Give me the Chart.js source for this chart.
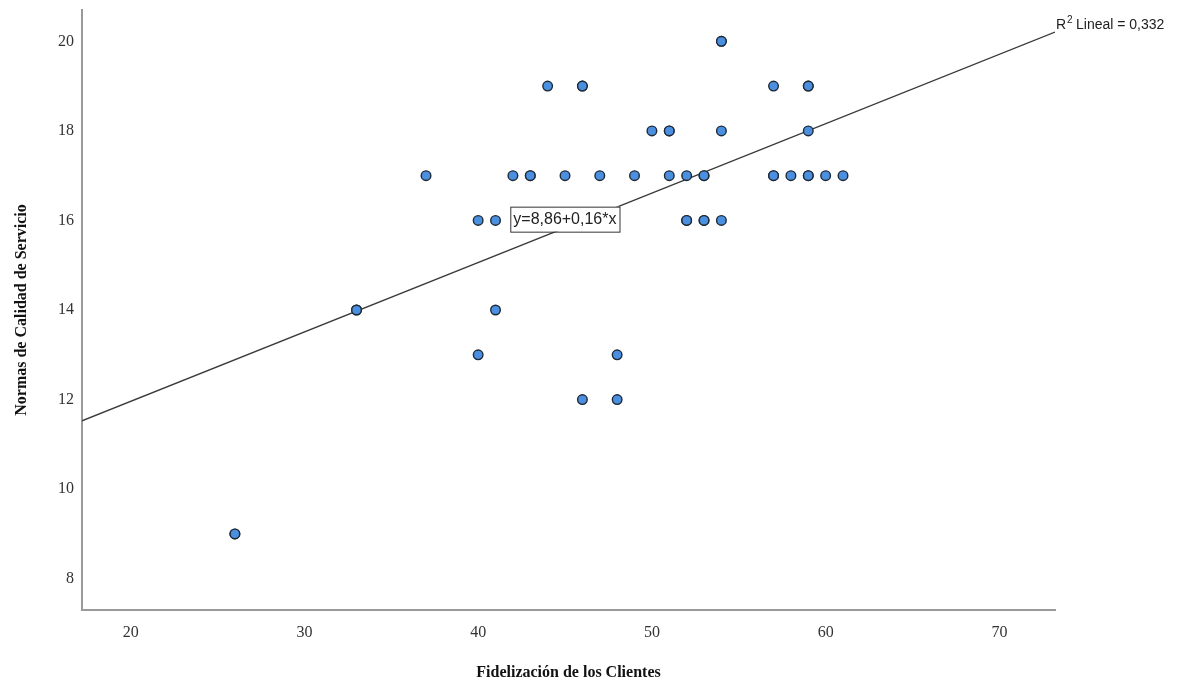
<!DOCTYPE html>
<html>
<head>
<meta charset="utf-8">
<script src="https://cdn.jsdelivr.net/npm/chart.js@4.4.0/dist/chart.umd.min.js"></script>
<style>
  html, body { margin: 0; padding: 0; background: #fff; }
  #wrap { width: 1178px; height: 684px; }
</style>
</head>
<body>
<div id="wrap"><canvas id="scatterChart"></canvas></div>
<script>
// data (x = Fidelización, y = Normas de Calidad)
const fidelizacion = [26, 26, 33, 33, 37, 40, 41, 40, 41, 44, 46, 46, 42, 43, 43, 45, 47, 49, 46, 48, 48,
  50, 51, 51, 51, 52, 53, 53, 52, 52, 53, 53, 54, 54, 54, 54, 57, 59, 59, 59, 57, 57, 58, 59, 59, 60, 61];
const normas = [9, 9, 14, 14, 17, 16, 16, 13, 14, 19, 19, 19, 17, 17, 17, 17, 17, 17, 12, 13, 12,
  18, 18, 18, 17, 17, 17, 17, 16, 16, 16, 16, 16, 20, 20, 18, 19, 19, 19, 18, 17, 17, 17, 17, 17, 17, 17];

const xTicks = [20, 30, 40, 50, 60, 70];
const yTicks = [8, 10, 12, 14, 16, 18, 20];

// fit line (as printed in the chart)
const intercept = 8.86;
const slope = 0.155;
const xMin = 17.2, xMax = 73.2;
const yMin = 7.3, yMax = 20.7;

const points = fidelizacion.map((x, i) => ({ x: x, y: normas[i] }));
const fitLine = [xMin, xMax].map((x) => ({ x: x, y: intercept + slope * x }));

const serif = "'Liberation Serif', 'Times New Roman', serif";
const sans = "'Liberation Sans', Arial, sans-serif";

const labelsPlugin = {
  id: "fitLabels",
  afterDatasetsDraw(chart) {
    const ctx = chart.ctx;
    const xs = chart.scales.x, ys = chart.scales.y;
    ctx.save();
    // equation box
    ctx.font = "16px " + sans;
    const eq = "y=8,86+0,16*x";
    const bx = xs.getPixelForValue(41.85);
    const by = ys.getPixelForValue(16.04);
    const w = ctx.measureText(eq).width + 6;
    ctx.fillStyle = "#fff";
    ctx.fillRect(bx, by - 12, w, 25);
    ctx.strokeStyle = "#333";
    ctx.lineWidth = 1;
    ctx.strokeRect(bx + 0.5, by - 12 + 0.5, w, 25);
    ctx.fillStyle = "#222";
    ctx.textBaseline = "middle";
    ctx.fillText(eq, bx + 3, by + 1);

    // R2 label at the line end
    const rx = xs.right + 1;
    const ry = ys.getPixelForValue(intercept + slope * xMax) - 7;
    ctx.font = "14px " + sans;
    ctx.fillText("R", rx, ry);
    const rw = ctx.measureText("R").width;
    ctx.font = "10px " + sans;
    ctx.fillText("2", rx + rw + 1, ry - 5);
    ctx.font = "14px " + sans;
    ctx.fillText(" Lineal = 0,332", rx + rw + 6, ry);
    ctx.restore();
  },
};

new Chart(document.getElementById("scatterChart"), {
  type: "scatter",
  data: {
    datasets: [
      {
        label: "Casos",
        data: points,
        backgroundColor: "#4a8fe0",
        borderColor: "#1f2a36",
        borderWidth: 1.4,
        pointRadius: 4.8,
        pointHoverRadius: 4.8,
        order: 1,
      },
      {
        label: "Lineal",
        type: "line",
        data: fitLine,
        borderColor: "#3a3a3a",
        borderWidth: 1.3,
        pointRadius: 0,
        fill: false,
        order: 2,
      },
    ],
  },
  options: {
    responsive: true,
    maintainAspectRatio: false,
    animation: false,
    layout: { padding: { left: 0, top: 10, right: 123, bottom: 0 } },
    plugins: {
      legend: { display: false },
      tooltip: { enabled: false },
    },
    scales: {
      x: {
        type: "linear",
        min: xMin,
        max: xMax,
        afterBuildTicks: (scale) => {
          scale.ticks = xTicks.map((v) => ({ value: v }));
        },
        afterFit: (scale) => {
          scale.height = 74;
        },
        grid: { drawOnChartArea: false, drawTicks: false },
        border: { display: true, color: "#9a9a9a", width: 2 },
        ticks: {
          padding: 13,
          color: "#333",
          font: { family: serif, size: 16 },
        },
        title: {
          display: true,
          text: "Fidelización de los Clientes",
          color: "#111",
          font: { family: serif, size: 16, weight: "bold" },
          padding: { top: 0, bottom: 2 },
        },
      },
      y: {
        type: "linear",
        min: yMin,
        max: yMax,
        afterBuildTicks: (scale) => {
          scale.ticks = yTicks.map((v) => ({ value: v }));
        },
        afterFit: (scale) => {
          scale.width = 82;
          scale.paddingTop = 0;
          scale.paddingBottom = 0;
        },
        grid: { drawOnChartArea: false, drawTicks: false },
        border: { display: true, color: "#9a9a9a", width: 2 },
        ticks: {
          padding: 8,
          color: "#333",
          font: { family: serif, size: 16 },
        },
        title: {
          display: true,
          text: "Normas de Calidad de Servicio",
          color: "#111",
          font: { family: serif, size: 16, weight: "bold" },
          padding: { top: 12, bottom: 0 },
        },
      },
    },
  },
  plugins: [labelsPlugin],
});
</script>
</body>
</html>
